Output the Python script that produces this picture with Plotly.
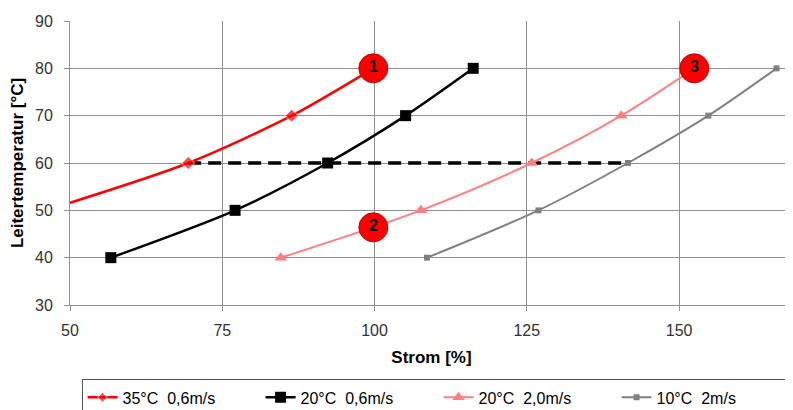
import plotly.graph_objects as go

# --- data ---
red_x = [50.0, 69.4, 86.4, 99.8]
red_y = [51.6, 60, 70, 80]
black_x = [56.7, 77.1, 92.3, 105.1, 116.2]
black_y = [40, 50, 60, 70, 80]
pink_x = [84.6, 107.6, 125.8, 140.5, 152.5]
pink_y = [40, 50, 60, 70, 80]
gray_x = [108.6, 126.9, 141.6, 154.8, 166.0]
gray_y = [40, 50, 60, 70, 80]
names = ["35°C  0,6m/s", "20°C  0,6m/s", "20°C  2,0m/s", "10°C  2m/s"]

dash_x = [69.4, 141.6]
dash_y = [60, 60]

label_x = [99.8, 99.8, 152.5]
label_y = [80, 46.4, 80]
label_text = ["<b>1</b>", "<b>2</b>", "<b>3</b>"]

FONT = "Liberation Sans, Arial, sans-serif"

fig = go.Figure()

fig.add_trace(go.Scatter(
    x=dash_x, y=dash_y, mode="lines", showlegend=False, hoverinfo="skip",
    line=dict(color="black", width=3.5, dash="13px,7px")))

fig.add_trace(go.Scatter(
    x=red_x, y=red_y, mode="lines+markers", name=names[0],
    line=dict(color="#FF0000", width=2.5, shape="spline", smoothing=0.8),
    marker=dict(symbol="diamond", size=[0, 10, 10, 10], color="#FF0000")))
fig.add_trace(go.Scatter(
    x=black_x, y=black_y, mode="lines+markers", name=names[1],
    line=dict(color="#000000", width=2.5, shape="spline", smoothing=0.8),
    marker=dict(symbol="square", size=11, color="#000000")))
fig.add_trace(go.Scatter(
    x=pink_x, y=pink_y, mode="lines+markers", name=names[2],
    line=dict(color="#FF8080", width=2, shape="spline", smoothing=0.8),
    marker=dict(symbol="triangle-up", size=11, color="#FF8080")))
fig.add_trace(go.Scatter(
    x=gray_x, y=gray_y, mode="lines+markers", name=names[3],
    line=dict(color="#808080", width=2, shape="spline", smoothing=0.8),
    marker=dict(symbol="square", size=6, color="#808080")))

fig.add_trace(go.Scatter(
    x=label_x, y=label_y, mode="markers+text", text=label_text,
    textposition="middle center", showlegend=False, hoverinfo="skip",
    textfont=dict(family=FONT, size=16, color="black"),
    marker=dict(size=29, color="#FF0000", line=dict(color="#C00000", width=1))))

axis_common = dict(
    showgrid=True, gridcolor="#8f8f8f", gridwidth=1,
    showline=True, linecolor="#8f8f8f", linewidth=1,
    ticks="outside", ticklen=5, tickcolor="#8f8f8f",
    tickfont=dict(family=FONT, size=16, color="#333333"),
    zeroline=False, automargin=False)

fig.update_xaxes(range=[50, 168.7], tickvals=[50, 75, 100, 125, 150],
                 ticklabelstandoff=6,
                 title=dict(text="<b>Strom [%]</b>", font=dict(family=FONT, size=17, color="black"), standoff=12),
                 **axis_common)
fig.update_yaxes(range=[30, 90], tickvals=[30, 40, 50, 60, 70, 80, 90],
                 ticklabelstandoff=8,
                 title=dict(text="<b>Leitertemperatur [°C]</b>", font=dict(family=FONT, size=17, color="black"), standoff=12),
                 **axis_common)

# the page adds an 8px body margin, so the figure is laid out 8px up/left
fig.update_layout(
    width=793, height=410,
    margin=dict(l=62, r=8, t=13, b=113, autoexpand=False),
    paper_bgcolor="white", plot_bgcolor="white",
    font=dict(family=FONT, size=16, color="black"),
    legend=dict(orientation="h", x=0.016, y=-0.262, xanchor="left", yanchor="top",
                bordercolor="#555555", borderwidth=1, bgcolor="white",
                font=dict(family=FONT, size=16, color="black"),
                entrywidth=133, tracegroupgap=0),
)

fig.write_html("out.html")
